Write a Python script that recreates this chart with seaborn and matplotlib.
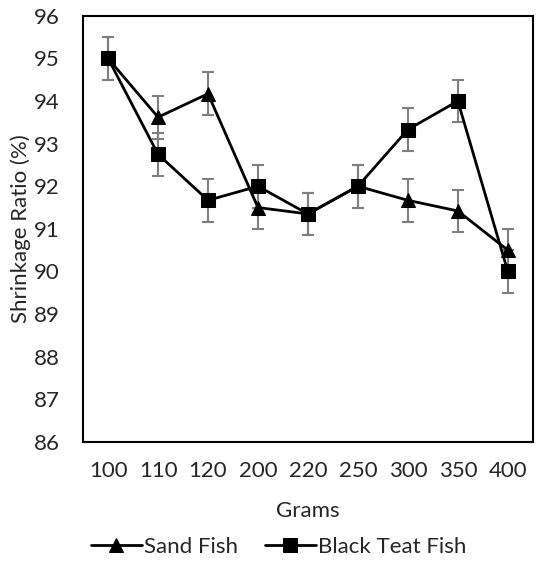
import matplotlib
matplotlib.use("Agg")
import matplotlib.pyplot as plt
import seaborn as sns
import pandas as pd
import numpy as np

grams = ["100", "110", "120", "200", "220", "250", "300", "350", "400"]
sand_fish = [95.0, 93.62, 94.17, 91.5, 91.35, 92.0, 91.67, 91.42, 90.5]
black_teat = [95.0, 92.75, 91.67, 92.0, 91.35, 92.0, 93.33, 94.0, 90.0]
err = 0.5

sns.set_style("white")
plt.rcParams['font.family'] = ['Lato', 'DejaVu Sans']

df = pd.DataFrame({
    "Grams": list(range(len(grams))) * 2,
    "Ratio": sand_fish + black_teat,
    "Series": ["Sand Fish"] * len(grams) + ["Black Teat Fish"] * len(grams),
})

fig = plt.figure(figsize=(5.36, 5.63), dpi=100)
ax = fig.add_axes([0.155, 0.215, 0.839, 0.757])

x = np.arange(len(grams))
ax.errorbar(x, sand_fish, yerr=err, fmt='none', ecolor='#7f7f7f', elinewidth=1.5, capsize=4.5, capthick=1.5, zorder=1)
ax.errorbar(x, black_teat, yerr=err, fmt='none', ecolor='#7f7f7f', elinewidth=1.5, capsize=4.5, capthick=1.5, zorder=1)

sns.lineplot(data=df, x="Grams", y="Ratio", hue="Series", style="Series",
             markers={"Sand Fish": "^", "Black Teat Fish": "s"},
             dashes=False, palette={"Sand Fish": "black", "Black Teat Fish": "black"},
             markersize=10, linewidth=2, ax=ax, zorder=3, markeredgecolor='black')

fs = 16
ax.set_xlim(-0.5, len(grams) - 0.5)
ax.set_ylim(86, 96)
ax.set_yticks(range(86, 97))
ax.set_xticks(x)
ax.set_xticklabels(grams)
ax.tick_params(axis='both', labelsize=fs, length=0)
ax.tick_params(axis='x', pad=14)
ax.tick_params(axis='y', pad=17)
ax.set_xlabel("Grams", fontsize=fs, labelpad=14)
ax.set_ylabel("Shrinkage Ratio (%)", fontsize=fs, labelpad=2)
for s in ax.spines.values():
    s.set_color('black')
    s.set_linewidth(1.5)

handles, labels = ax.get_legend_handles_labels()
ax.legend().remove()
fig.legend(handles, labels, loc='center', bbox_to_anchor=(0.52, 0.028), ncol=2,
           frameon=False, fontsize=fs, handlelength=2.3, columnspacing=1.2,
           handletextpad=0.1, borderpad=0)

fig.savefig("out.png", dpi=100)
